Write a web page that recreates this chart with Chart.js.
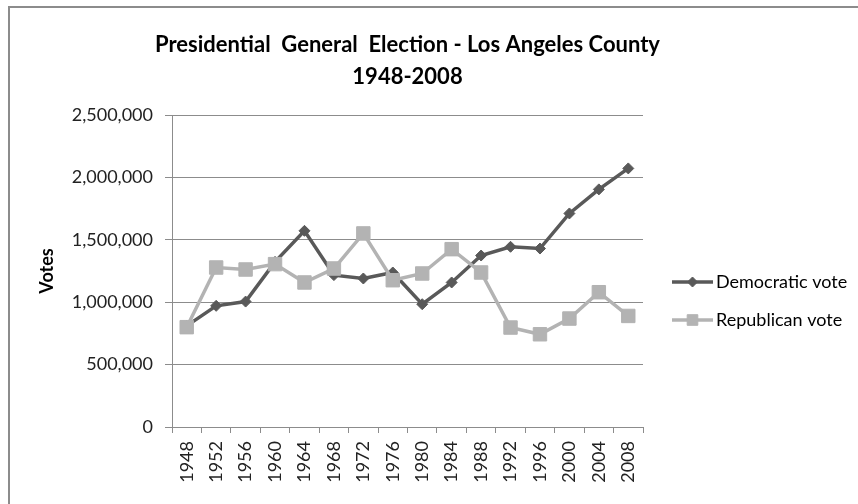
<!DOCTYPE html>
<html lang="en">
<head>
  <meta charset="UTF-8" />
  <title>Presidential General Election - Los Angeles County</title>
  <script src="https://cdn.jsdelivr.net/npm/chart.js"></script>
  <style>
    body { margin: 0; background: #fff; }
    .wrap { position: relative; width: 858px; height: 504px; overflow: hidden; }
    .frame {
      position: absolute; left: 8px; top: 6px; width: 900px; height: 600px;
      border-left: 2px solid #8c8c8c; border-top: 2px solid #8c8c8c;
      pointer-events: none;
    }
  </style>
</head>
<body>
  <div class="wrap">
    <canvas id="myChart" width="858" height="504"></canvas>
    <div class="frame"></div>
  </div>

  <script>
    // data
    var years = ['1948', '1952', '1956', '1960', '1964', '1968', '1972', '1976',
                 '1980', '1984', '1988', '1992', '1996', '2000', '2004', '2008'];
    var demVotes = [810000, 971000, 1005000, 1323000, 1572000, 1217000, 1190000, 1238000,
                    984000, 1158000, 1374000, 1444000, 1430000, 1711000, 1904000, 2072000];
    var repVotes = [800000, 1278000, 1262000, 1305000, 1158000, 1270000, 1551000, 1176000,
                    1230000, 1425000, 1238000, 797000, 743000, 869000, 1080000, 890000];
    var yTicks = [0, 500000, 1000000, 1500000, 2000000, 2500000];
    var titleLines = ['Presidential  General  Election - Los Angeles County', '1948-2008'];

    var fontName = 'Lato, "Open Sans", sans-serif';
    var darkGray = '#595959';
    var lightGray = '#b3b3b3';
    var gridGray = '#8c8c8c';

    // title centred over the plot area (the built-in one squeezes it)
    var plotTitle = {
      id: 'plotTitle',
      afterDraw(chart) {
        var ctx = chart.ctx;
        var area = chart.chartArea;
        var cx = (area.left + area.right) / 2;
        ctx.save();
        ctx.fillStyle = '#000';
        ctx.font = 'bold 22px ' + fontName;
        ctx.textAlign = 'center';
        ctx.textBaseline = 'middle';
        titleLines.forEach(function (t, i) {
          ctx.fillText(t, cx, area.top - 70 + i * 32);
        });
        ctx.restore();
      }
    };

    // legend on the right: line + marker + label, like the spreadsheet one
    var sideLegend = {
      id: 'sideLegend',
      afterDraw(chart) {
        var ctx = chart.ctx;
        var area = chart.chartArea;
        var x0 = area.right + 29;
        var rows = [area.top + 167, area.top + 205];
        chart.data.datasets.forEach(function (ds, i) {
          var y = rows[i];
          ctx.save();
          ctx.strokeStyle = ds.borderColor;
          ctx.lineWidth = ds.borderWidth;
          ctx.beginPath();
          ctx.moveTo(x0, y);
          ctx.lineTo(x0 + 41, y);
          ctx.stroke();
          ctx.fillStyle = ds.pointBackgroundColor;
          ctx.strokeStyle = ds.pointBorderColor;
          ctx.lineWidth = 1;
          Chart.helpers.drawPoint(ctx, {
            pointStyle: ds.pointStyle,
            radius: ds.pointStyle === 'rect' ? 7.5 : 5,
            borderWidth: 1
          }, x0 + 20.5, y);
          ctx.fillStyle = '#000';
          ctx.font = '18px ' + fontName;
          ctx.textBaseline = 'middle';
          ctx.textAlign = 'left';
          ctx.fillText(ds.label, x0 + 44, y);
          ctx.restore();
        });
      }
    };

    var ctx = document.getElementById('myChart');

    new Chart(ctx, {
      type: 'line',
      data: {
        labels: years,
        datasets: [{
          label: 'Democratic vote',
          data: demVotes,
          borderColor: darkGray,
          backgroundColor: darkGray,
          borderWidth: 3.5,
          pointStyle: 'rectRot',
          pointRadius: 5.5,
          pointBorderWidth: 1,
          pointBackgroundColor: darkGray,
          pointBorderColor: darkGray,
          tension: 0,
          order: 2
        }, {
          label: 'Republican vote',
          data: repVotes,
          borderColor: lightGray,
          backgroundColor: lightGray,
          borderWidth: 3.5,
          pointStyle: 'rect',
          pointRadius: 9.5,
          pointBorderWidth: 1,
          pointBackgroundColor: lightGray,
          pointBorderColor: lightGray,
          tension: 0,
          order: 1
        }]
      },
      options: {
        responsive: false,
        animation: false,
        layout: { padding: { left: 10, right: 215, top: 115, bottom: 0 } },
        plugins: {
          legend: { display: false },
          tooltip: { enabled: false },
          title: { display: false }
        },
        scales: {
          x: {
            type: 'category',
            offset: true,
            grid: {
              display: true,
              offset: true,
              drawOnChartArea: false,
              tickLength: 6,
              color: gridGray
            },
            border: { color: gridGray },
            ticks: {
              minRotation: 90,
              maxRotation: 90,
              padding: 8,
              color: '#222',
              font: { family: fontName, size: 18 }
            },
            afterFit: function (scale) { scale.height = 77; }
          },
          y: {
            min: 0,
            max: 2500000,
            afterBuildTicks: function (scale) {
              scale.ticks = yTicks.map(function (v) { return { value: v }; });
            },
            grid: { color: gridGray, tickLength: 7 },
            border: { color: gridGray },
            ticks: {
              padding: 12,
              color: '#222',
              font: { family: fontName, size: 18 },
              callback: function (v) { return v.toLocaleString('en-US'); }
            },
            title: {
              display: true,
              text: 'Votes',
              color: '#000',
              font: { family: fontName, size: 18, weight: 'bold' },
              padding: { top: 26, bottom: 0 }
            },
            afterFit: function (scale) { scale.width = 162; }
          }
        }
      },
      plugins: [plotTitle, sideLegend]
    });
  </script>
</body>
</html>
